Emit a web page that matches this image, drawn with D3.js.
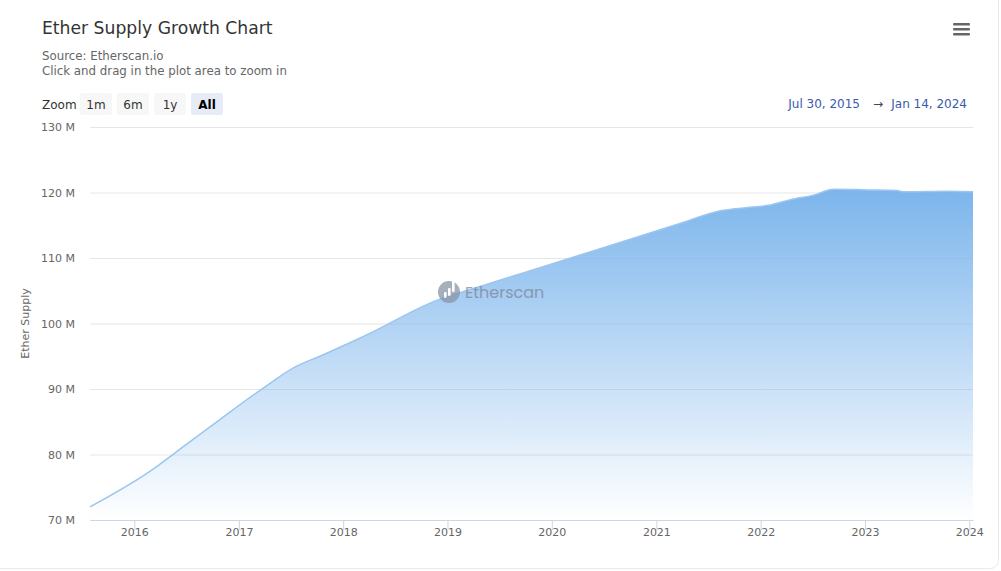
<!DOCTYPE html>
<html>
<head>
<meta charset="utf-8">
<script src="https://cdn.jsdelivr.net/npm/d3@7"></script>
<style>
  body { margin: 0; background: #fff; }
  svg { display: block; font-family: "DejaVu Sans", Verdana, sans-serif; }
</style>
</head>
<body>
<svg id="chart" width="1001" height="571"></svg>
<script>
// values (millions of ETH)
const dates = [
  "2015-07-30", "2016-03-18", "2016-05-09", "2016-10-25", "2017-03-26",
  "2017-07-14", "2017-10-22", "2018-03-22", "2018-11-28", "2019-04-05",
  "2020-01-09", "2021-03-27", "2021-08-13", "2021-11-15", "2022-02-04",
  "2022-04-15", "2022-07-06", "2022-09-14", "2023-01-08", "2023-04-23",
  "2023-05-16", "2023-10-14", "2024-01-14"
];
const supply = [
  72.0, 78.1, 79.8, 85.3, 90.1,
  93.3, 95.2, 98.2, 103.6, 105.4,
  109.2, 115.3, 117.2, 117.7, 118.1,
  118.9, 119.6, 120.5, 120.4, 120.3,
  120.1, 120.2, 120.1
];
const yTicks = [70, 80, 90, 100, 110, 120, 130];
const zoomButtons = ["1m", "6m", "1y", "All"];
const rangeFrom = "Jul 30, 2015";
const rangeTo = "Jan 14, 2024";

const parse = d3.timeParse("%Y-%m-%d");
const data = dates.map((d, i) => ({date: parse(d), value: supply[i]}));

const svg = d3.select("#chart");
const plotLeft = 90, plotRight = 973, plotTop = 127, plotBottom = 520;

const x = d3.scaleTime()
    .domain(d3.extent(data, d => d.date))
    .range([plotLeft, plotRight]);
const y = d3.scaleLinear()
    .domain([70, 130])
    .range([plotBottom, plotTop]);

// card border
svg.append("rect")
    .attr("x", -10).attr("y", -10)
    .attr("width", 1008.5).attr("height", 578.5)
    .attr("rx", 8)
    .attr("fill", "none")
    .attr("stroke", "#e7eaf3");

// title block
svg.append("text")
    .attr("x", 42).attr("y", 34)
    .attr("font-size", 17.2)
    .attr("fill", "#333")
    .text("Ether Supply Growth Chart");
svg.append("text")
    .attr("x", 42).attr("y", 60)
    .attr("font-size", 11.8)
    .attr("fill", "#666")
    .text("Source: Etherscan.io");
svg.append("text")
    .attr("x", 42).attr("y", 75)
    .attr("font-size", 11.8)
    .attr("fill", "#666")
    .text("Click and drag in the plot area to zoom in");

// hamburger menu
[0, 5, 10].forEach(dy => {
    svg.append("rect")
        .attr("x", 953).attr("y", 23 + dy)
        .attr("width", 17).attr("height", 2.6)
        .attr("rx", 1)
        .attr("fill", "#666");
});

// zoom range selector
svg.append("text")
    .attr("x", 42).attr("y", 109)
    .attr("font-size", 12)
    .attr("fill", "#333")
    .text("Zoom");
const btn = svg.selectAll(".zoomBtn")
    .data(zoomButtons)
    .enter().append("g")
    .classed("zoomBtn", true)
    .attr("transform", (_, i) => `translate(${80 + i * 37},93)`);
btn.append("rect")
    .attr("width", 32).attr("height", 22)
    .attr("rx", 2)
    .attr("fill", d => d === "All" ? "#e6ebf5" : "#f7f7f7");
btn.append("text")
    .attr("x", 16).attr("y", 16)
    .attr("text-anchor", "middle")
    .attr("font-size", 12)
    .attr("font-weight", d => d === "All" ? "bold" : "normal")
    .attr("fill", d => d === "All" ? "#000" : "#333")
    .text(d => d);

svg.append("text")
    .attr("x", 860).attr("y", 108)
    .attr("text-anchor", "end")
    .attr("font-size", 12)
    .attr("fill", "#3a5aad")
    .text(rangeFrom);
svg.append("text")
    .attr("x", 878).attr("y", 108)
    .attr("text-anchor", "middle")
    .attr("font-size", 12)
    .attr("fill", "#444")
    .text("\u2192");
svg.append("text")
    .attr("x", 967).attr("y", 108)
    .attr("text-anchor", "end")
    .attr("font-size", 12)
    .attr("fill", "#3a5aad")
    .text(rangeTo);

// gridlines + y labels
const yAxis = svg.append("g");
yAxis.selectAll("line")
    .data(yTicks)
    .enter().append("line")
    .attr("x1", plotLeft).attr("x2", plotRight)
    .attr("y1", d => y(d) + 0.5).attr("y2", d => y(d) + 0.5)
    .attr("stroke", "#e6e6e6");
yAxis.selectAll("text")
    .data(yTicks)
    .enter().append("text")
    .attr("x", 75).attr("y", d => y(d) + 4)
    .attr("text-anchor", "end")
    .attr("font-size", 11)
    .attr("fill", "#666")
    .text(d => d + " M");

svg.append("text")
    .attr("transform", `translate(29,${(plotTop + plotBottom) / 2}) rotate(-90)`)
    .attr("text-anchor", "middle")
    .attr("font-size", 11)
    .attr("fill", "#666")
    .text("Ether Supply");

// area gradient
const defs = svg.append("defs");
const grad = defs.append("linearGradient")
    .attr("id", "areaFill")
    .attr("x1", 0).attr("y1", 0).attr("x2", 0).attr("y2", 1);
grad.append("stop").attr("offset", "0%").attr("stop-color", "#7cb5ec").attr("stop-opacity", 1);
grad.append("stop").attr("offset", "100%").attr("stop-color", "#7cb5ec").attr("stop-opacity", 0);

const area = d3.area()
    .x(d => x(d.date))
    .y0(plotBottom)
    .y1(d => y(d.value))
    .curve(d3.curveMonotoneX);
const line = d3.line()
    .x(d => x(d.date))
    .y(d => y(d.value))
    .curve(d3.curveMonotoneX);

svg.append("path")
    .datum(data)
    .attr("d", area)
    .attr("fill", "url(#areaFill)");
svg.append("path")
    .datum(data)
    .attr("d", line)
    .attr("fill", "none")
    .attr("stroke", "#9cc5ef")
    .attr("stroke-width", 1.5);

// watermark
const wm = svg.append("g")
    .attr("transform", "translate(449,292)")
    .attr("opacity", 0.75);
wm.append("circle").attr("r", 11).attr("fill", "#8a93a6");
[[-5, 3, 6], [-1, 1, 8], [3, -3, 12]].forEach(([bx, by, h]) => {
    wm.append("rect")
        .attr("x", bx).attr("y", 6 - h + by - 3)
        .attr("width", 2.6).attr("height", h)
        .attr("rx", 1)
        .attr("fill", "#fff");
});
wm.append("text")
    .attr("x", 16).attr("y", 6)
    .attr("font-size", 16)
    .attr("font-family", "Poppins, 'Open Sans', sans-serif")
    .attr("fill", "#7d879a")
    .text("Etherscan");

// x axis
const xAxis = d3.axisBottom(x)
    .ticks(d3.timeYear.every(1))
    .tickFormat(d3.timeFormat("%Y"))
    .tickSize(10)
    .tickSizeOuter(0);
const gx = svg.append("g")
    .attr("transform", `translate(0,${plotBottom})`)
    .call(xAxis);
gx.select(".domain").attr("stroke", "#ccd6eb");
gx.selectAll(".tick line").attr("stroke", "#ccd6eb");
gx.selectAll(".tick text")
    .attr("font-family", "DejaVu Sans, Verdana, sans-serif")
    .attr("font-size", 11)
    .attr("fill", "#666")
    .attr("dy", "0.3em");
</script>
</body>
</html>
